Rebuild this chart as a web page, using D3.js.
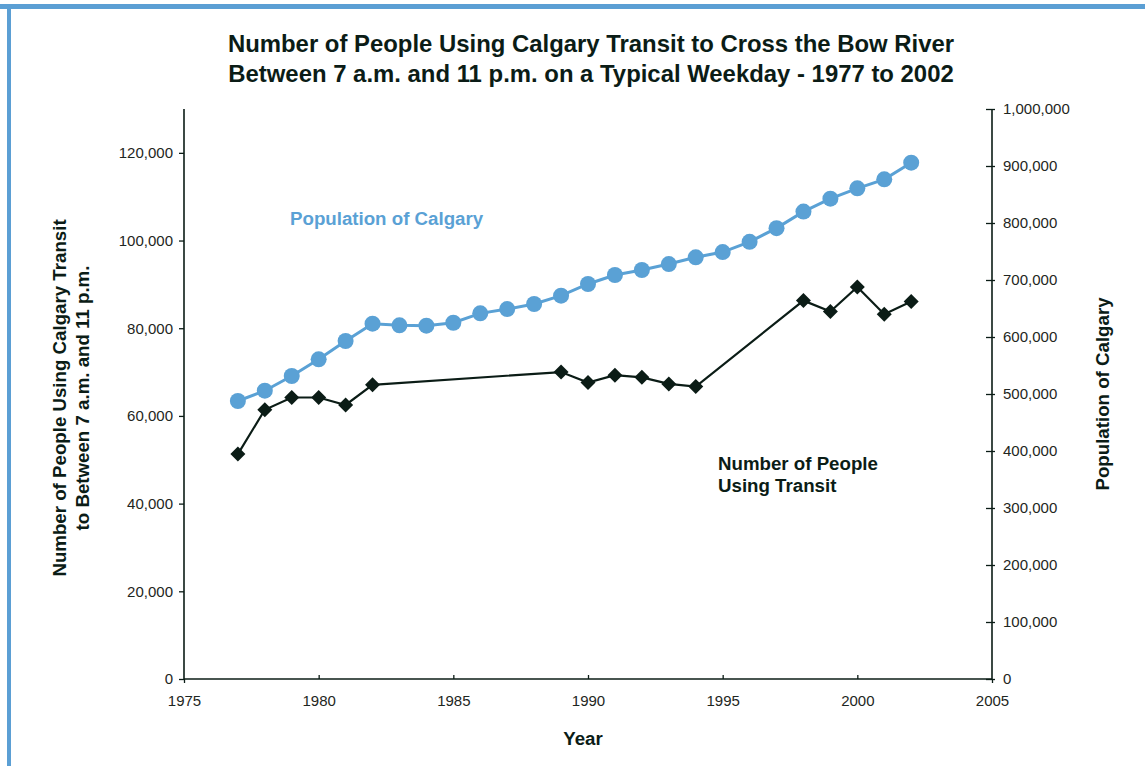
<!DOCTYPE html>
<html><head><meta charset="utf-8">
<script src="https://cdn.jsdelivr.net/npm/d3@7"></script>
<style>
body{margin:0;background:#fff;}
svg{display:block;font-family:"Liberation Sans",Arial,sans-serif;}
</style></head>
<body><svg id="c" width="1145" height="766"></svg>
<script>
const years = [1977,1978,1979,1980,1981,1982,1983,1984,1985,1986,1987,1988,1989,1990,1991,1992,1993,1994,1995,1996,1997,1998,1999,2000,2001,2002];
const population = [487700,505800,531600,560800,593000,623400,620500,619900,625000,641500,649000,657900,672500,693000,708800,717500,728000,739800,749000,767000,791000,820000,842600,860800,876600,905800];
const transitYears = [1977,1978,1979,1980,1981,1982,1989,1990,1991,1992,1993,1994,1998,1999,2000,2001,2002];
const transit = [51300,61400,64200,64200,62500,67100,70000,67600,69300,68800,67300,66700,86300,83800,89400,83200,86100];
const xTicks = [1975,1980,1985,1990,1995,2000,2005];
const leftTicks = [0,20000,40000,60000,80000,100000,120000];
const rightTicks = [0,100000,200000,300000,400000,500000,600000,700000,800000,900000,1000000];

const svg = d3.select("#c");
const dark = "#0b1c16";
const blue = "#5aa1d5";
const L = 184, R = 992, T = 109, B = 679;

// border
svg.append("rect").attr("x",0).attr("y",4).attr("width",1145).attr("height",5).attr("fill","#5b9fd4");
svg.append("rect").attr("x",7).attr("y",4).attr("width",4).attr("height",762).attr("fill","#5b9fd4");

const x = d3.scaleLinear().domain([1975,2005]).range([L,R]);
const yL = d3.scaleLinear().domain([0,130000]).range([B,T]);
const yR = d3.scaleLinear().domain([0,1000000]).range([B,T]);
const fmt = d3.format(",");

// left axis
const gl = svg.append("g").attr("transform",`translate(${L},0)`)
  .call(d3.axisLeft(yL).tickValues(leftTicks).tickFormat(fmt).tickSize(5).tickPadding(6));
// right axis
const gr = svg.append("g").attr("transform",`translate(${R},0)`)
  .call(d3.axisRight(yR).tickValues(rightTicks).tickFormat(fmt).tickSizeOuter(0).tickSizeInner(3).tickPadding(8));
gr.selectAll(".tick line").attr("x1",-6).attr("x2",3);
// bottom axis
const gb = svg.append("g").attr("transform",`translate(0,${B})`)
  .call(d3.axisBottom(x).tickValues(xTicks).tickFormat(d3.format("d")).tickSizeOuter(0).tickSize(-4).tickPadding(16));
gb.selectAll(".tick line").filter(d=>d===1975).attr("y2",4);
gb.selectAll(".tick line").filter(d=>d===2005).attr("y2",4);

[gl,gr,gb].forEach(g=>{
  g.select(".domain").attr("stroke",dark).attr("stroke-width",1.6);
  g.selectAll(".tick line").attr("stroke",dark).attr("stroke-width",1.3);
  g.selectAll(".tick text").attr("fill","#1e2622").style("font-size","15px").style("font-family","'Liberation Sans',Arial,sans-serif");
});
gl.select(".domain").attr("d",`M0,${B}V${T}`);
gr.select(".domain").attr("d",`M0,${B}V${T}`);
gb.select(".domain").attr("d",`M${L},0H${R}`);

// population line
const popData = years.map((y,i)=>({y, v:population[i]}));
svg.append("path").datum(popData)
  .attr("fill","none").attr("stroke",blue).attr("stroke-width",3)
  .attr("d",d3.line().x(d=>x(d.y)).y(d=>yR(d.v)));
svg.append("g").selectAll("circle").data(popData).join("circle")
  .attr("cx",d=>x(d.y)).attr("cy",d=>yR(d.v)).attr("r",8).attr("fill",blue);

// transit line
const trData = transitYears.map((y,i)=>({y, v:transit[i]}));
svg.append("path").datum(trData)
  .attr("fill","none").attr("stroke",dark).attr("stroke-width",2.2)
  .attr("d",d3.line().x(d=>x(d.y)).y(d=>yL(d.v)));
svg.append("g").selectAll("path").data(trData).join("path")
  .attr("transform",d=>`translate(${x(d.y)},${yL(d.v)})`)
  .attr("d","M0,-7.5L7.5,0L0,7.5L-7.5,0Z").attr("fill",dark);

// titles
const title = svg.append("text").attr("text-anchor","middle").attr("fill",dark)
  .style("font-weight","bold").style("font-size","23.9px");
title.append("tspan").attr("x",591).attr("y",52).text("Number of People Using Calgary Transit to Cross the Bow River");
title.append("tspan").attr("x",591).attr("y",82).text("Between 7 a.m. and 11 p.m. on a Typical Weekday - 1977 to 2002");

const lab = (t,xx,yy,opts={})=>svg.append("text").attr("x",xx).attr("y",yy).attr("fill",opts.fill||dark)
  .attr("text-anchor",opts.anchor||"middle").style("font-weight","bold").style("font-size",(opts.size||18.7)+"px")
  .attr("transform",opts.rot?`rotate(-90,${xx},${yy})`:null).text(t);

lab("Year",583,745);
lab("Number of People Using Calgary Transit",66,398,{rot:true});
lab("to Between 7 a.m. and 11 p.m.",89,398,{rot:true});
lab("Population of Calgary",1109,394,{rot:true});
lab("Population of Calgary",290,225,{anchor:"start",fill:blue});
lab("Number of People",718,470,{anchor:"start"});
lab("Using Transit",718,492,{anchor:"start"});
</script></body></html>
